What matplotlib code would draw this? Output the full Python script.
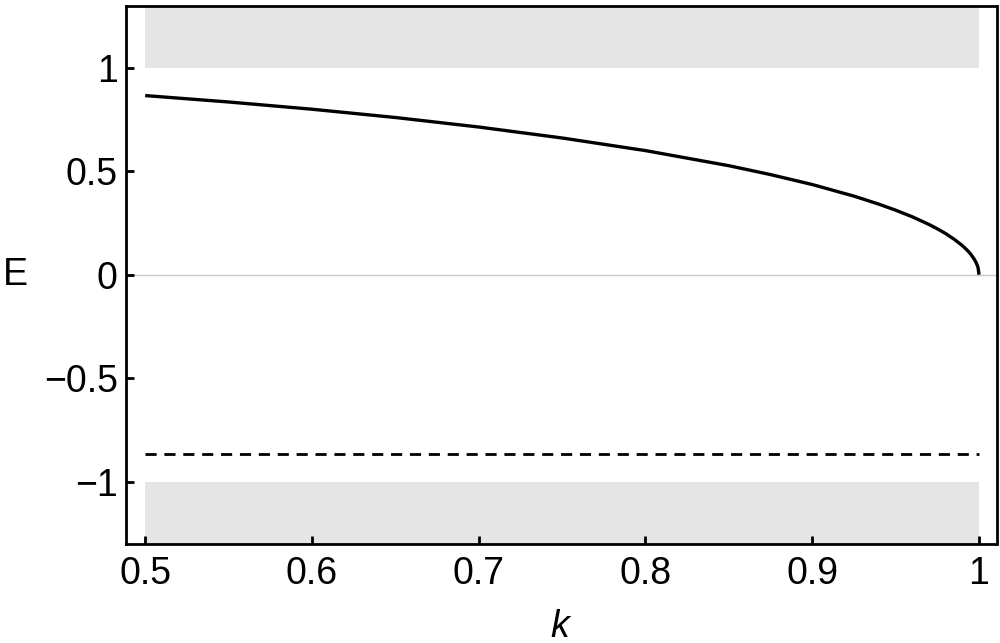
import numpy as np
import matplotlib
matplotlib.use("Agg")
import matplotlib.pyplot as plt

plt.rcParams['font.family'] = ['Liberation Sans', 'DejaVu Sans']
plt.rcParams['mathtext.fontset'] = 'custom'
plt.rcParams['mathtext.it'] = 'Liberation Sans:italic'

# values
k = [0.5, 0.55, 0.6, 0.65, 0.7, 0.75, 0.8, 0.85, 0.875, 0.9, 0.925, 0.94,
     0.95, 0.96, 0.97, 0.975, 0.98, 0.985, 0.99, 0.993, 0.995, 0.997,
     0.998, 0.999, 0.9995, 1.0]
E = [0.866, 0.835, 0.8, 0.76, 0.714, 0.661, 0.6, 0.527, 0.484, 0.436, 0.38,
     0.341, 0.312, 0.28, 0.243, 0.222, 0.199, 0.172, 0.141, 0.118, 0.1,
     0.077, 0.063, 0.045, 0.032, 0.0]
k_range = [0.5, 1.0]
dashed_level = -0.866
band_upper = [1.0, 1.3]
band_lower = [-1.3, -1.0]
xticks = [0.5, 0.6, 0.7, 0.8, 0.9, 1.0]
xtick_labels = ['0.5', '0.6', '0.7', '0.8', '0.9', '1']
yticks = [-1, -0.5, 0, 0.5, 1]
ytick_labels = ['\u22121', '\u22120.5', '0', '0.5', '1']

fig = plt.figure(figsize=(10, 6.43), dpi=100)
ax = fig.add_axes([0.126, 0.1545, 0.8705, 0.8365])

ax.fill_between(k_range, band_upper[0], band_upper[1], color='#e5e5e5', lw=0, zorder=0)
ax.fill_between(k_range, band_lower[0], band_lower[1], color='#e5e5e5', lw=0, zorder=0)
ax.axhline(0, color='#c8c8c8', lw=1, zorder=1)

ax.plot(k, E, color='black', lw=2.4, solid_capstyle='butt',
        solid_joinstyle='round', zorder=3)
ax.plot(k_range, [dashed_level, dashed_level], color='black', lw=2,
        dashes=(4, 2.8), zorder=3)

ax.set_xlim(0.4885, 1.0105)
ax.set_ylim(-1.3, 1.3)
ax.set_xticks(xticks)
ax.set_xticklabels(xtick_labels)
ax.set_yticks(yticks)
ax.set_yticklabels(ytick_labels)
ax.tick_params(direction='in', length=6, width=2, labelsize=27, pad=6)
ax.tick_params(axis='x', pad=9)
for s in ax.spines.values():
    s.set_linewidth(2)

ax.set_xlabel('$k$', fontsize=27, labelpad=12)
ax.set_ylabel('E', fontsize=27, rotation=0, va='center', ha='center')
ax.yaxis.set_label_coords(-0.127, 0.5)

fig.savefig('out.png', dpi=100)
